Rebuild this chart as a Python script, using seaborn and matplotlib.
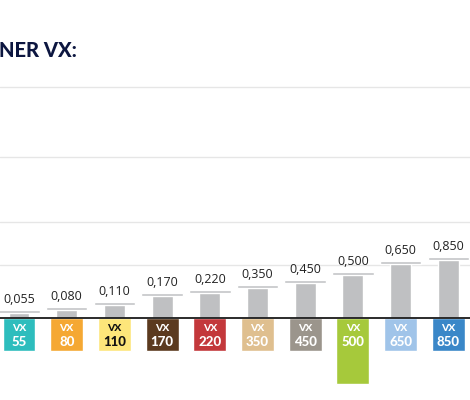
import matplotlib
matplotlib.use("Agg")
import matplotlib.pyplot as plt
import seaborn as sns
import pandas as pd

# ---- data ----
codes = ["55", "80", "110", "170", "220", "350", "450", "500", "650", "850"]
value_labels = ["0,055", "0,080", "0,110", "0,170", "0,220", "0,350", "0,450", "0,500", "0,650", "0,850"]
bar_heights = [8, 11, 16, 25, 28, 33, 38, 46, 57, 61]      # drawn height (infographic scale)
box_colors = ["#2dbdbd", "#f5a833", "#fde67a", "#5b3a1f", "#c3383b",
              "#dfbf8f", "#9b958c", "#a6c93b", "#a0c4e9", "#3a87c8"]
box_text_colors = ["white", "white", "#111111", "white", "white",
                   "white", "white", "white", "white", "white"]
highlight = "500"
grid_levels = [53, 96, 161, 231]
title = "NER VX:"

df = pd.DataFrame({"code": codes, "height": bar_heights})

sns.set_theme(style="white")
plt.rcParams["font.family"] = ["Open Sans", "DejaVu Sans"]

fig = plt.figure(figsize=(4.7, 4.0), dpi=100)
ax = fig.add_axes([0, 0, 1, 1])

for g in grid_levels:
    ax.axhline(g, color="#e6e6e6", lw=1.0, zorder=0)

# stems
sns.barplot(data=df, x="code", y="height", order=codes, color="#bfc0c2",
            saturation=1, width=0.44, errorbar=None, ax=ax, zorder=2)

xs = list(range(len(codes)))
# caps
ax.bar(xs, [3] * len(xs), bottom=[h - 3 for h in bar_heights], width=0.87,
       color="#c3c4c6", zorder=3)

# colored boxes below the baseline
depths = [66 if c == highlight else 33 for c in codes]
ax.bar(xs, [-d for d in depths], width=0.69, color=box_colors, zorder=2)

ax.axhline(0, color="#1a1a1a", lw=1.3, zorder=4)

for x, h, lab, c, tc in zip(xs, bar_heights, value_labels, codes, box_text_colors):
    ax.annotate(lab, (x, h), xytext=(0, 3), textcoords="offset points",
                ha="center", va="bottom", fontsize=9, color="#222222", zorder=5)
    ax.text(x, -10.5, "VX", ha="center", va="center", fontsize=7.5, fontweight="black",
            color=tc, family=["Lato", "DejaVu Sans"], zorder=5)
    ax.text(x, -24, c, ha="center", va="center", fontsize=9.5, fontweight="black",
            color=tc, family=["Lato", "DejaVu Sans"], zorder=5)

ax.set_xlim(-19 / 47.7, (470 - 19) / 47.7)
ax.set_ylim(-82, 318)
ax.axis("off")

fig.text(-1 / 470, 1 - 57 / 400, title, ha="left", va="baseline", fontsize=14.5,
         fontweight="black", color="#0c1640", family=["Lato", "DejaVu Sans"])

fig.savefig("out.png", dpi=100)
